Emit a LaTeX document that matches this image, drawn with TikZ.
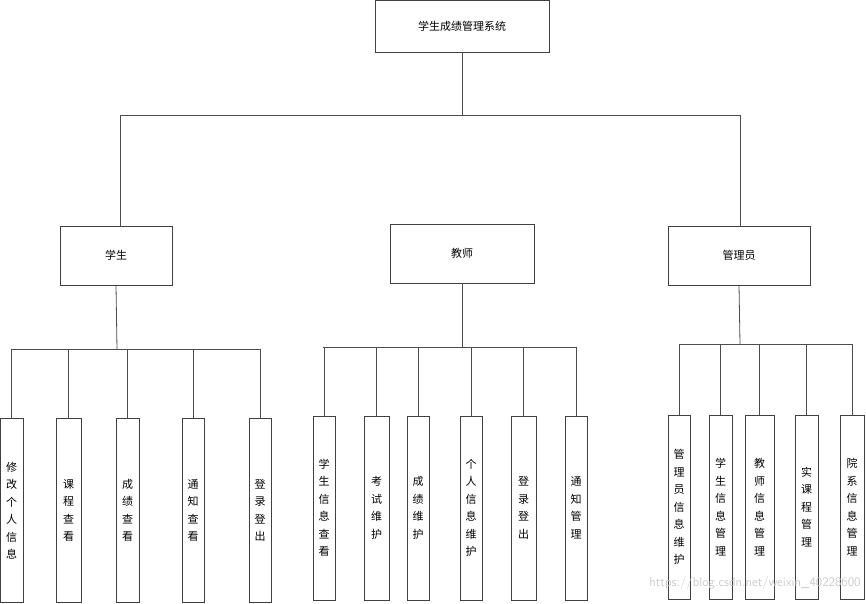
\documentclass[tikz,border=0pt]{standalone}
\usepackage{fontspec}
\newfontfamily\cjk{Noto Sans CJK SC}
\tikzset{
  bx/.style={draw=black!75,line width=0.8pt,inner sep=0pt,font=\cjk\fontsize{11}{13}\selectfont,align=center},
  vb/.style={bx,minimum height=184pt,font=\cjk\fontsize{11}{17.5}\selectfont},
  ln/.style={draw=black!70,line width=0.8pt}
}
\begin{document}
\begin{tikzpicture}[x=1pt,y=-1pt]
\useasboundingbox (0,0) rectangle (866,604);
\node[bx,minimum width=174pt,minimum height=52pt] (top) at (462,26) {学生成绩管理系统};
\node[bx,minimum width=112pt,minimum height=59pt] (s) at (116,255.5) {学生};
\node[bx,minimum width=144pt,minimum height=59pt] (t) at (462,253.5) {教师};
\node[bx,minimum width=142pt,minimum height=59pt] (a) at (739,255.5) {管理员};
\coordinate (j) at (462,115);
\draw[ln] (top.south) -- (j);
\draw[ln] (120,115) -- (740,115);
\draw[ln] (120,115) -- (120,226);
\draw[ln] (740,115) -- (740,226);
% student
\foreach \n/\x/\w/\t in {s1/11.5/23/修\\改\\个\\人\\信\\息, s2/68.5/25/课\\程\\查\\看, s3/127.5/23/成\\绩\\查\\看, s4/193/22/通\\知\\查\\看, s5/260/22/登\\录\\登\\出}
  {\node[vb,minimum width=\w pt] (\n) at (\x,510.5) {\t};
   \draw[ln] (\x,349) -- (\n.north);}
\draw[ln] (12,349) -- (260,349);
\draw[ln] (s.south) -- (117,349);
% teacher
\foreach \n/\x/\w/\t in {t1/324/22/学\\生\\信\\息\\查\\看, t2/376.5/25/考\\试\\维\\护, t3/418/22/成\\绩\\维\\护, t4/471/22/个\\人\\信\\息\\维\\护, t5/523.5/25/登\\录\\登\\出, t6/576/22/通\\知\\管\\理}
  {\node[vb,minimum width=\w pt] (\n) at (\x,508) {\t};
   \draw[ln] (\x,347) -- (\n.north);}
\draw[ln] (323,347) -- (576,347);
\draw[ln] (t.south) -- (462,347);
% admin
\foreach \n/\x/\w/\t in {a1/679/22/管\\理\\员\\信\\息\\维\\护, a2/720.5/23/学\\生\\信\\息\\管\\理, a3/759.5/29/教\\师\\信\\息\\管\\理, a4/806.5/23/实\\课\\程\\管\\理, a5/852/24/院\\系\\信\\息\\管\\理}
  {\node[vb,minimum width=\w pt] (\n) at (\x,507) {\t};
   \draw[ln] (\x,344) -- (\n.north);}
\draw[ln] (679,344) -- (852,344);
\draw[ln] (a.south) -- (740,344);
\node[text=black!20,font=\sffamily\fontsize{13}{13}\selectfont,anchor=east] (wm) at (864,583) {https://blog.csdn.net/weixin\_40228600};
\end{tikzpicture}
\end{document}
